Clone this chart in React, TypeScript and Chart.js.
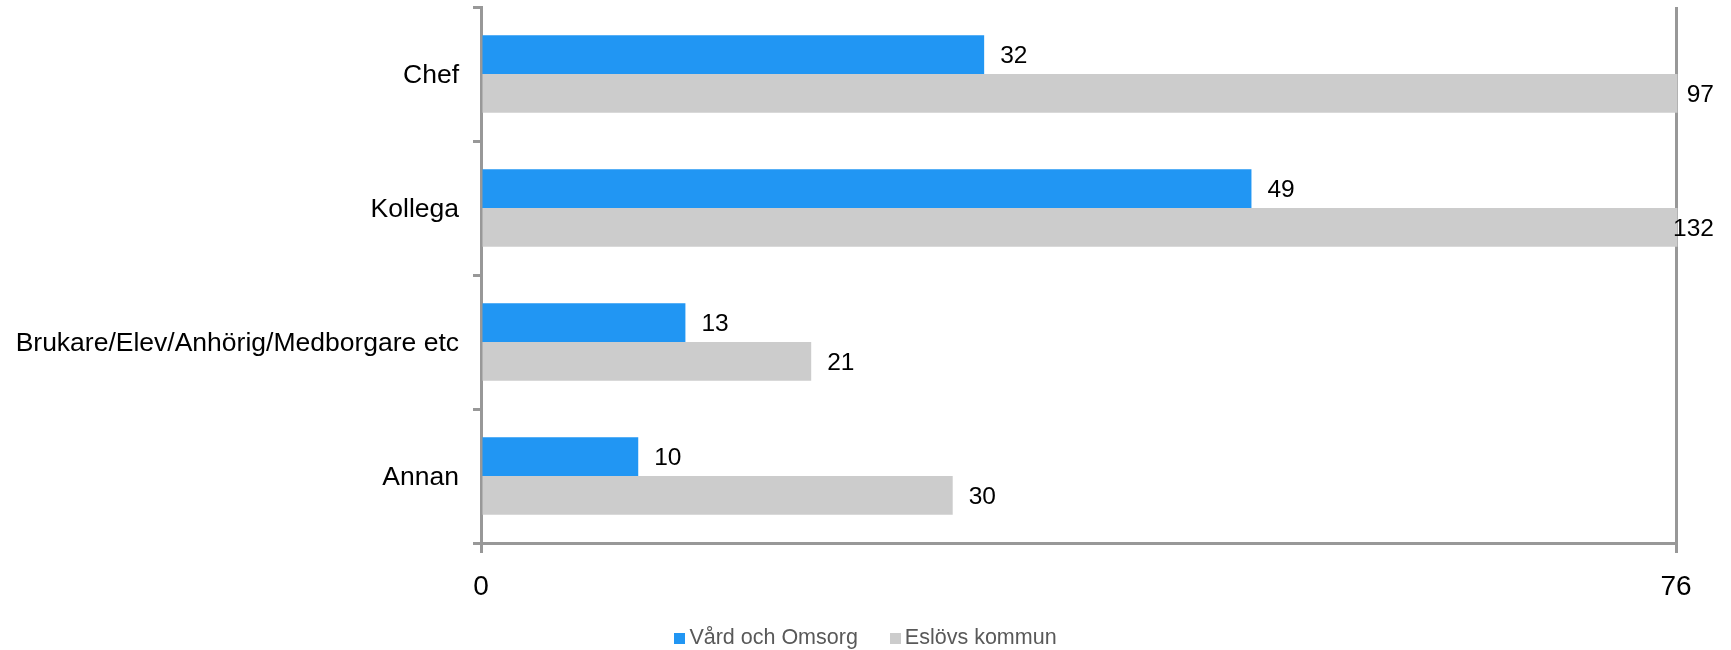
import React, { useEffect, useRef } from "react";
import { Chart, registerables } from "chart.js";

Chart.register(...registerables);

const categories = ["Chef", "Kollega", "Brukare/Elev/Anhörig/Medborgare etc", "Annan"];
const vardOchOmsorg = [32, 49, 13, 10];
const eslovsKommun = [97, 132, 21, 30];
const xTickValues = [0, 76];
const seriesNames = ["Vård och Omsorg", "Eslövs kommun"];
const seriesColors = ["#2196F3", "#CCCCCC"];

const FONT = "'Liberation Sans', Arial, sans-serif";
const AXIS = "#989898";

const valueLabels = {
  id: "valueLabels",
  afterDatasetsDraw(chart: any) {
    const ctx = chart.ctx;
    const area = chart.chartArea;
    ctx.save();
    ctx.font = `24.5px ${FONT}`;
    ctx.fillStyle = "#000000";
    ctx.textAlign = "left";
    ctx.textBaseline = "middle";
    chart.data.datasets.forEach((ds: any, di: number) => {
      const meta = chart.getDatasetMeta(di);
      meta.data.forEach((el: any, i: number) => {
        const txt = String(ds.data[i]);
        const w = ctx.measureText(txt).width;
        let x = Math.min(el.x, area.right + 1.5) + 16;
        const maxRight = chart.width - 17;
        if (x + w > maxRight) x = maxRight - w;
        ctx.fillText(txt, x, el.y + 2);
      });
    });
    ctx.restore();
  },
};

export default function App() {
  const ref = useRef<HTMLCanvasElement | null>(null);

  useEffect(() => {
    if (!ref.current) return;
    const chart = new Chart(ref.current, {
      type: "bar",
      data: {
        labels: categories,
        datasets: [
          {
            label: seriesNames[0],
            data: vardOchOmsorg,
            backgroundColor: seriesColors[0],
            borderWidth: 0,
            clip: { left: 0, top: 0, right: 1.5, bottom: 0 },
          } as any,
          {
            label: seriesNames[1],
            data: eslovsKommun,
            backgroundColor: seriesColors[1],
            borderWidth: 0,
            clip: { left: 0, top: 0, right: 1.5, bottom: 0 },
          } as any,
        ],
      },
      options: {
        indexAxis: "y",
        animation: false,
        responsive: true,
        maintainAspectRatio: false,
        datasets: { bar: { categoryPercentage: 0.577, barPercentage: 1 } },
        layout: { padding: { top: 7, left: 0, right: 55, bottom: 47 } },
        plugins: {
          legend: { display: false },
          tooltip: { enabled: false },
        },
        scales: {
          x: {
            type: "linear",
            min: 0,
            max: 76,
            afterBuildTicks: (scale: any) => {
              scale.ticks = xTickValues.map((v) => ({ value: v }));
            },
            afterFit: (scale: any) => {
              scale.height = 60;
              scale.paddingLeft = 0;
              scale.paddingRight = 0;
            },
            grid: {
              display: true,
              drawOnChartArea: true,
              drawTicks: true,
              tickLength: 10,
              color: AXIS,
              lineWidth: 3,
            },
            border: { display: true, color: AXIS, width: 3 },
            ticks: {
              color: "#000000",
              font: { family: FONT, size: 28 },
              padding: 17,
              maxRotation: 0,
              autoSkip: false,
            },
          },
          y: {
            type: "category",
            afterFit: (scale: any) => {
              scale.width = 481;
              scale.paddingTop = 0;
              scale.paddingBottom = 0;
            },
            grid: {
              display: true,
              drawOnChartArea: false,
              drawTicks: true,
              tickLength: 8,
              offset: true,
              color: AXIS,
              lineWidth: 3,
            },
            border: { display: true, color: AXIS, width: 3 },
            ticks: {
              color: "#000000",
              font: { family: FONT, size: 26.5 },
              padding: 14,
              labelOffset: 2,
            },
          },
        },
      },
      plugins: [valueLabels],
    });
    return () => chart.destroy();
  }, []);

  return (
    <div style={{ position: "absolute", left: 0, top: 0, width: 1731, height: 650 }}>
      <canvas ref={ref} />
      <div
        style={{
          position: "absolute",
          left: 0,
          top: 624,
          width: 1731,
          height: 26,
          display: "flex",
          justifyContent: "center",
          alignItems: "center",
          fontFamily: FONT,
          fontSize: 21.5,
          color: "#595959",
          gap: 32,
        }}
      >
        {seriesNames.map((n, i) => (
          <div key={n} style={{ display: "flex", alignItems: "center" }}>
            <span
              style={{
                display: "inline-block",
                width: 11,
                height: 11,
                background: seriesColors[i],
                marginRight: 4,
                marginTop: 3,
              }}
            />
            <span>{n}</span>
          </div>
        ))}
      </div>
    </div>
  );
}
